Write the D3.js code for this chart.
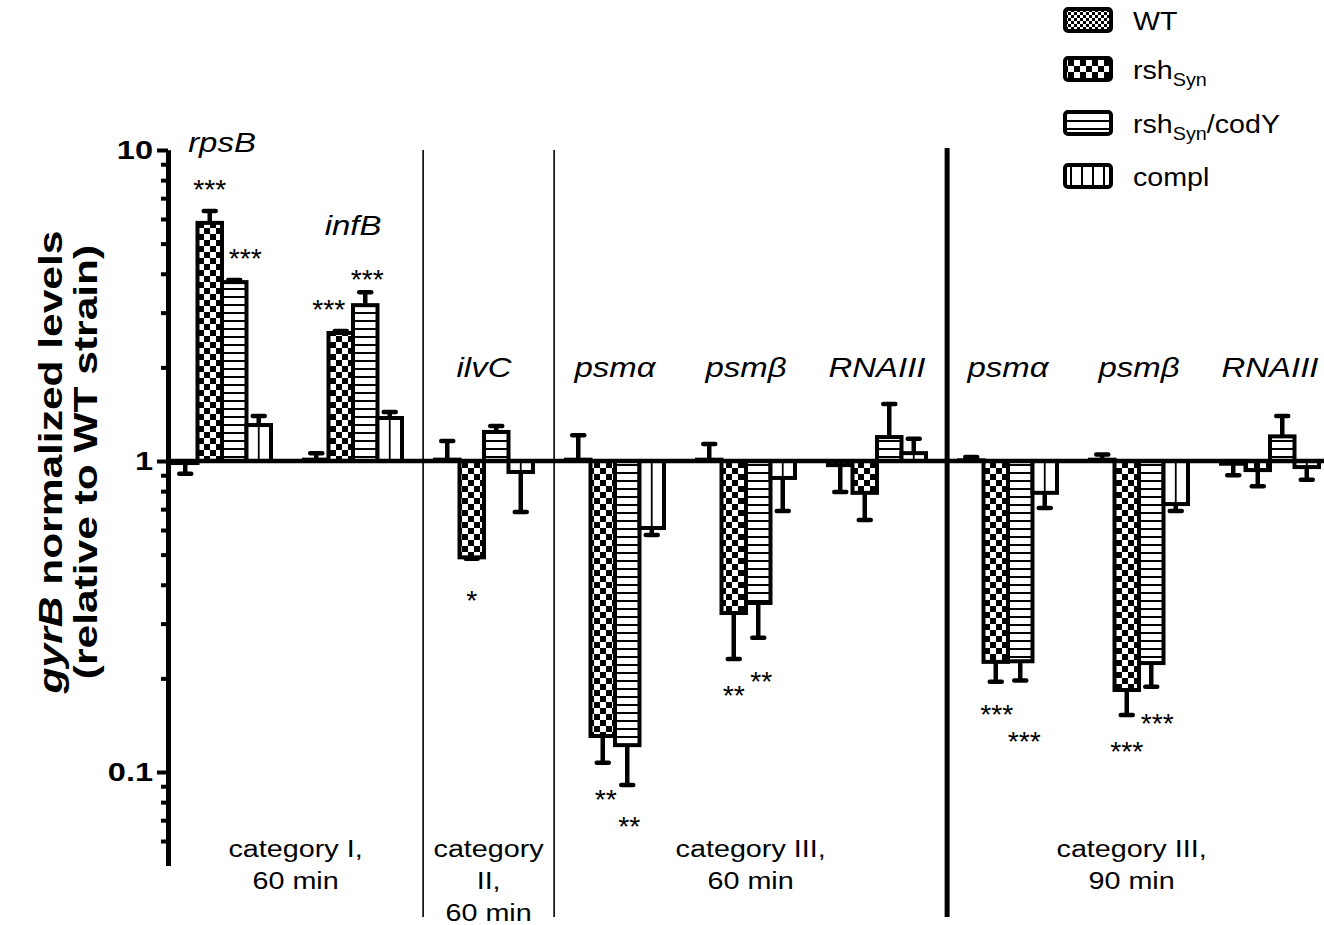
<!DOCTYPE html>
<html>
<head>
<meta charset="utf-8">
<script src="https://cdn.jsdelivr.net/npm/d3@7"></script>
<style>
  body { margin: 0; background: #fff; }
  svg { display: block; }
</style>
</head>
<body>
<div id="chart"></div>
<script>
// gene groups, left to right
var geneIds = ["rpsB", "infB", "ilvC", "psmA60", "psmB60", "RNAIII60", "psmA90", "psmB90", "RNAIII90"];
var geneLabels = ["rpsB", "infB", "ilvC", "psm\u03b1", "psm\u03b2", "RNAIII", "psm\u03b1", "psm\u03b2", "RNAIII"];
var seriesNames = ["WT", "rshSyn", "rshSyn/codY", "compl"];

// mean and end of error bar, relative to WT
var wtMean    = [0.985, 1.01, 1.01, 1.01, 1.01, 0.97, 1.005, 1.01, 0.98];
var wtErr     = [0.91, 1.06, 1.16, 1.21, 1.134, 0.795, 1.03, 1.05, 0.90];
var rshMean   = [5.83, 2.58, 0.49, 0.1305, 0.3245, 0.79, 0.226, 0.1835, 0.935];
var rshErr    = [6.37, 2.62, 0.485, 0.107, 0.231, 0.646, 0.195, 0.1526, 0.83];
var codyMean  = [3.76, 3.17, 1.24, 0.122, 0.3495, 1.194, 0.227, 0.224, 1.2];
var codyErr   = [3.82, 3.49, 1.296, 0.0909, 0.27, 1.525, 0.197, 0.188, 1.395];
var complMean = [1.305, 1.375, 0.922, 0.609, 0.882, 1.06, 0.79, 0.727, 0.956];
var complErr  = [1.395, 1.437, 0.686, 0.578, 0.691, 1.18, 0.706, 0.69, 0.87];

// significance marks: [gene index, series index, text]
var stars = [[0, 1, "***"], [0, 2, "***"], [1, 1, "***"], [1, 2, "***"], [2, 1, "*"],
             [3, 1, "**"], [3, 2, "**"], [4, 1, "**"], [4, 2, "**"],
             [6, 1, "***"], [6, 2, "***"], [7, 1, "***"], [7, 2, "***"]];

var categoryLabels = [["category I,", "60 min"], ["category", "II,", "60 min"],
                      ["category III,", "60 min"], ["category III,", "90 min"]];
var categoryFirstGene = [0, 2, 3, 6];
var yTicks = [10, 1, 0.1];

var means = [wtMean, rshMean, codyMean, complMean];
var errs = [wtErr, rshErr, codyErr, complErr];

var W = 1324, H = 925;
var FONT = "Arial, 'Liberation Sans', Helvetica, sans-serif";
var SX = 1.25;   // the original lettering is wider than Arial
var axisX = 168;

var svg = d3.select("#chart").append("svg")
    .attr("width", W)
    .attr("height", H);

var y = d3.scaleLog()
    .domain([0.05, 10])
    .range([150 + 311 * Math.log10(200), 150]);

var x = d3.scaleBand()
    .domain(geneIds)
    .range([173, 1319])
    .paddingInner(0.252)
    .paddingOuter(0);

var xs = d3.scaleBand()
    .domain(seriesNames)
    .range([0, x.bandwidth()]);

function barCenter(g, s) {
    return x(geneIds[g]) + xs(seriesNames[s]) + xs.bandwidth() / 2;
}

// ---- patterns
var defs = svg.append("defs");

function checker(id, s) {
    var p = defs.append("pattern").attr("id", id)
        .attr("patternUnits", "userSpaceOnUse")
        .attr("width", 2 * s).attr("height", 2 * s);
    p.append("rect").attr("width", 2 * s).attr("height", 2 * s).attr("fill", "#fff");
    p.append("rect").attr("width", s).attr("height", s).attr("fill", "#000");
    p.append("rect").attr("x", s).attr("y", s).attr("width", s).attr("height", s).attr("fill", "#000");
}
checker("pat-wt", 3);
checker("pat-rsh", 6);

var ph = defs.append("pattern").attr("id", "pat-cody")
    .attr("patternUnits", "userSpaceOnUse").attr("width", 10).attr("height", 8);
ph.append("rect").attr("width", 10).attr("height", 8).attr("fill", "#fff");
ph.append("rect").attr("y", 0).attr("width", 10).attr("height", 2).attr("fill", "#000");

var pv = defs.append("pattern").attr("id", "pat-compl")
    .attr("patternUnits", "userSpaceOnUse").attr("width", 11).attr("height", 10).attr("x", 3);
pv.append("rect").attr("width", 11).attr("height", 10).attr("fill", "#fff");
pv.append("rect").attr("x", 0).attr("width", 2).attr("height", 10).attr("fill", "#000");

var fills = ["url(#pat-wt)", "url(#pat-rsh)", "url(#pat-cody)", "#fff"];

// ---- text helper
function addText(parent, px, py, str, o) {
    var t = parent.append("text")
        .attr("transform", "translate(" + px + "," + py + ")" +
              (o.rotate ? " rotate(" + o.rotate + ")" : "") +
              " scale(" + (o.sx || SX) + ",1)")
        .attr("text-anchor", o.anchor || "middle")
        .style("font-family", FONT)
        .style("font-size", o.size + "px")
        .style("font-weight", o.weight || "normal")
        .style("font-style", o.style || "normal")
        .attr("fill", "#000");
    if (str !== null) t.text(str);
    return t;
}

// ---- category separators
var sepX = categoryFirstGene.slice(1).map(function (g) {
    return x(geneIds[g]) - (x.step() - x.bandwidth()) * 0.36;
});
sepX.forEach(function (sx, i) {
    var thick = i === sepX.length - 1;
    svg.append("line")
        .attr("x1", sx).attr("x2", sx)
        .attr("y1", thick ? 148 : 150).attr("y2", 917)
        .attr("stroke", "#000")
        .attr("stroke-width", thick ? 5 : 1.6);
});

// ---- bars
var bars = [];
means.forEach(function (arr, s) {
    arr.forEach(function (v, g) {
        bars.push({g: g, s: s, v: v, e: errs[s][g]});
    });
});

var barG = svg.append("g");
barG.selectAll("rect")
    .data(bars)
    .enter().append("rect")
    .attr("x", function (d) { return x(geneIds[d.g]) + xs(seriesNames[d.s]); })
    .attr("width", xs.bandwidth())
    .attr("y", function (d) { return Math.min(y(d.v), y(1)); })
    .attr("height", function (d) { return Math.abs(y(d.v) - y(1)); })
    .attr("fill", function (d) { return fills[d.s]; })
    .attr("stroke", "#000")
    .attr("stroke-width", 4);

// compl bars show one vertical rule down the middle
barG.selectAll("line.mid")
    .data(bars.filter(function (d) { return d.s === 3; }))
    .enter().append("line")
    .attr("class", "mid")
    .attr("x1", function (d) { return barCenter(d.g, d.s); })
    .attr("x2", function (d) { return barCenter(d.g, d.s); })
    .attr("y1", function (d) { return y(1); })
    .attr("y2", function (d) { return y(d.v); })
    .attr("stroke", "#000")
    .attr("stroke-width", 1.8);

// error bars (one-sided, away from baseline)
var errG = svg.append("g").attr("stroke", "#000").attr("stroke-width", 4.5);
errG.selectAll("line.stem")
    .data(bars)
    .enter().append("line")
    .attr("x1", function (d) { return barCenter(d.g, d.s); })
    .attr("x2", function (d) { return barCenter(d.g, d.s); })
    .attr("y1", function (d) { return y(d.v); })
    .attr("y2", function (d) { return y(d.e); });
errG.selectAll("line.cap")
    .data(bars)
    .enter().append("line")
    .attr("stroke-linecap", "round")
    .attr("x1", function (d) { return barCenter(d.g, d.s) - 6; })
    .attr("x2", function (d) { return barCenter(d.g, d.s) + 6; })
    .attr("y1", function (d) { return y(d.e); })
    .attr("y2", function (d) { return y(d.e); });

// baseline at 1
svg.append("line")
    .attr("x1", axisX).attr("x2", W)
    .attr("y1", y(1)).attr("y2", y(1))
    .attr("stroke", "#000")
    .attr("stroke-width", 4.5);

// ---- y axis
var minor = [];
[0.01, 0.1, 1].forEach(function (dec) {
    for (var k = 2; k <= 9; k++) {
        var v = +(k * dec).toPrecision(3);
        if (v > 0.05 && v < 10) minor.push(v);
    }
});

var axG = svg.append("g").attr("transform", "translate(" + axisX + ",0)");
axG.append("g")
    .call(d3.axisLeft(y).tickValues(minor).tickSize(7).tickFormat("").tickSizeOuter(0));
axG.append("g")
    .call(d3.axisLeft(y).tickValues(yTicks).tickSize(11).tickFormat("").tickSizeOuter(0));
axG.selectAll("path.domain").attr("stroke-width", 5);
axG.selectAll(".tick line").attr("stroke-width", 4);

yTicks.forEach(function (t) {
    addText(svg, 153, y(t) + 9, d3.format("~g")(t), {size: 25, weight: "bold", anchor: "end", sx: 1.3});
});

// axis title
var t1 = addText(svg, 62, 462, null, {size: 34, weight: "bold", rotate: -90, sx: 1.25});
t1.append("tspan").style("font-style", "italic").text("gyrB");
t1.append("tspan").text(" normalized levels");
addText(svg, 97, 462, "(relative to WT strain)", {size: 34, weight: "bold", rotate: -90, sx: 1.25});

// ---- gene labels
var labelBase = {0: 152, 1: 235};
geneIds.forEach(function (id, i) {
    addText(svg, x(id) + x.bandwidth() / 2, labelBase[i] || 377, geneLabels[i],
        {size: 27, style: "italic", sx: 1.22});
});

// ---- significance stars
var starNudge = {"0-2": [11, 0], "1-1": [-12, 0], "1-2": [2, 9], "2-1": [0, 5],
                 "3-1": [3, 0], "3-2": [2, 5], "4-2": [3, 7], "6-1": [1, -4],
                 "6-2": [4, 25], "7-2": [6, 0]};
stars.forEach(function (st) {
    var g = st[0], s = st[1];
    var v = means[s][g], e = errs[s][g];
    var up = v > 1;
    var cy = up ? y(e) - 28 : y(e) + 30;
    var n = starNudge[g + "-" + s] || [0, 0];
    addText(svg, barCenter(g, s) + n[0], cy + n[1] + 16, st[2], {size: 27, sx: 1.05});
});

// ---- category labels
var bounds = [axisX].concat(sepX, [W - 8]);
categoryLabels.forEach(function (lines, i) {
    var cx = (bounds[i] + bounds[i + 1]) / 2;
    lines.forEach(function (ln, j) {
        addText(svg, cx, 857 + j * 32, ln, {size: 23, sx: 1.25});
    });
});

// ---- legend
var legRows = [20, 69, 123, 176];
var lg = svg.append("g");
seriesNames.forEach(function (name, i) {
    var cy = legRows[i];
    lg.append("rect")
        .attr("x", 1065).attr("y", cy - 11)
        .attr("width", 46).attr("height", 22)
        .attr("rx", 3)
        .attr("fill", i === 3 ? "url(#pat-compl)" : fills[i])
        .attr("stroke", "#000")
        .attr("stroke-width", 4);
    var t = addText(lg, 1133, cy + 10, null, {size: 26, anchor: "start", sx: 1.1});
    if (name.indexOf("rshSyn") === 0) {
        t.append("tspan").text("rsh");
        t.append("tspan").attr("dy", 7).style("font-size", "18px").text("Syn");
        if (name.length > 6) t.append("tspan").attr("dy", -7).text(name.slice(6));
    } else {
        t.text(name);
    }
});
</script>
</body>
</html>
